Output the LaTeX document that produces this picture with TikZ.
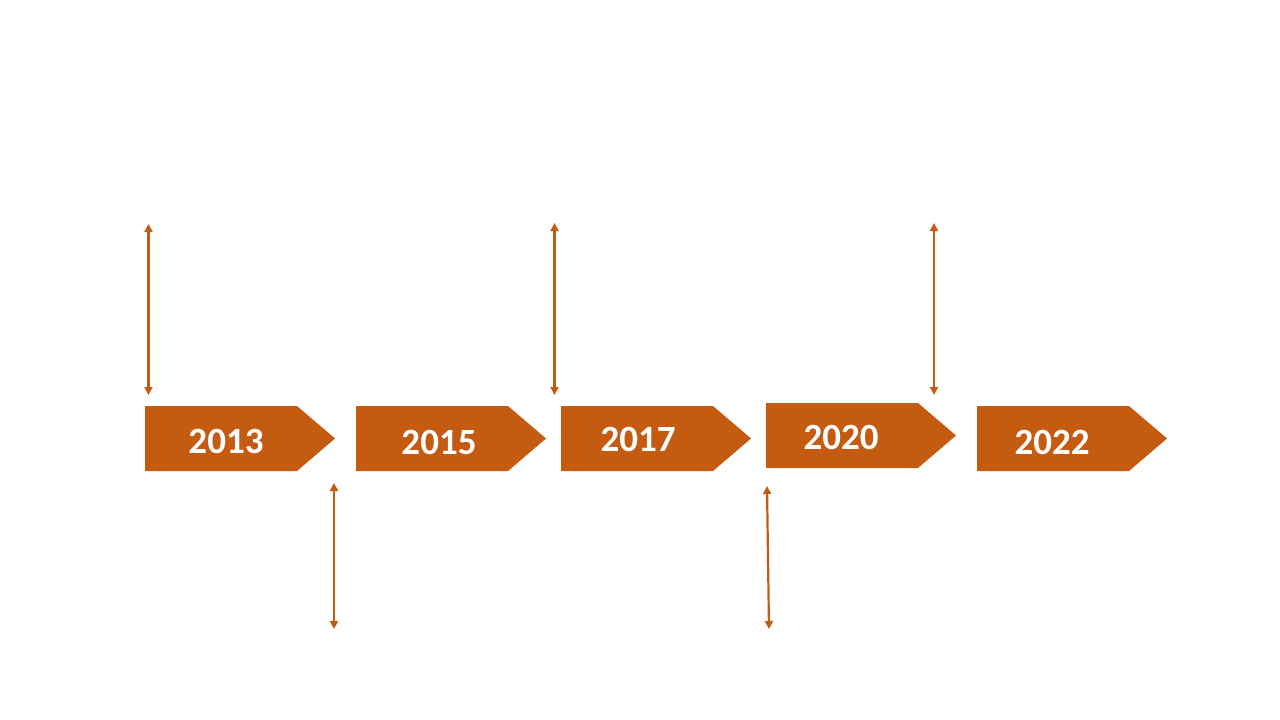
\documentclass[tikz,border=0pt]{standalone}
\usepackage{fontspec}
\setmainfont{Carlito}
\usetikzlibrary{arrows.meta}
\definecolor{rust}{HTML}{C55A11}
\tikzset{
  yearbox/.style={fill=rust},
  yeartext/.style={text=white,font=\bfseries\fontsize{37}{37}\selectfont,inner sep=0pt},
  span/.style={draw=rust,line width=2.2pt,{Triangle[length=8pt,width=8pt]}-{Triangle[length=8pt,width=8pt]}}
}
\begin{document}
\begin{tikzpicture}[x=1pt,y=-1pt]
\useasboundingbox (0,0) rectangle (1280,720);

		% year arrows
		\foreach \x/\y/\tx/\ty/\yr in {145/406/226/441/2013,356/406/439/442/2015,561/406/638/439/2017,766/403/841/437/2020,977/406/1052/442/2022}
			{\fill[yearbox] (\x,\y) -- ++(152,0) -- ++(38,32.5) -- ++(-38,32.5) -- ++(-152,0) -- cycle;
			\node[yeartext] (y\yr) at (\tx,\ty) {\yr};}

		% span lines
		\coordinate (t1) at (148.5,224); \coordinate (b1) at (148.5,395);
		\coordinate (t2) at (334,483);   \coordinate (b2) at (334,629);
		\coordinate (t3) at (554.5,223); \coordinate (b3) at (554.5,395);
		\coordinate (t4) at (767,486);   \coordinate (b4) at (769,629);
		\coordinate (t5) at (934,223);   \coordinate (b5) at (934,395);
		\foreach \i in {1,...,5}
			\draw[span] (t\i) -- (b\i);

\end{tikzpicture}
\end{document}
